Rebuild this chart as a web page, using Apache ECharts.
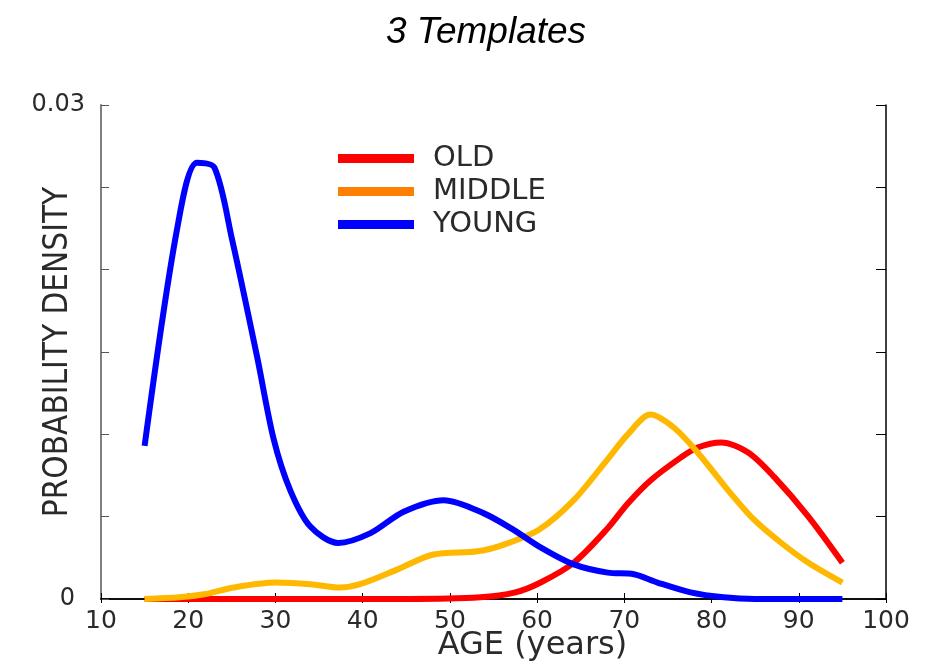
<!DOCTYPE html>
<html>
<head>
<meta charset="utf-8">
<script src="https://cdn.jsdelivr.net/npm/echarts@6/dist/echarts.min.js"></script>
<style>
  html, body { margin: 0; padding: 0; background: #fff; }
  #chart { width: 939px; height: 664px; }
</style>
</head>
<body>
<div id="chart"></div>
<script>
// ages (years) and probability densities
const oldAge = [15, 30, 45, 53.5, 57.5, 60.4, 64.2, 68.1, 70.4, 73, 76.5, 78.4, 81.1, 84.2, 87.2, 91.1, 95];
const oldDensity = [0, 0, 0, 0.0001, 0.0004, 0.001, 0.0022, 0.0043, 0.0058, 0.0072, 0.0086, 0.0092, 0.0095, 0.0089, 0.0074, 0.005, 0.0022];

const middleAge = [15, 19, 22, 25.2, 30, 34, 37.4, 39.7, 44, 48.1, 53.2, 56.2, 60.2, 64.2, 68.1, 70.4, 73, 75.7, 78.4, 81.9, 84.9, 88, 91.1, 95];
const middleDensity = [0, 0.0001, 0.0003, 0.0007, 0.001, 0.0009, 0.0007, 0.0009, 0.0018, 0.0027, 0.0029, 0.0033, 0.0042, 0.006, 0.0085, 0.01, 0.0112, 0.0104, 0.0089, 0.0066, 0.0048, 0.0034, 0.0022, 0.001];

const youngAge = [15, 18.7, 21, 23, 25, 27.9, 29.8, 31.7, 34, 37.2, 40.9, 44.7, 49.3, 53.9, 57.3, 60.2, 64.2, 68.1, 71.1, 73.8, 77.6, 81.4, 85, 90, 95];
const youngDensity = [0.0093, 0.0224, 0.0265, 0.0262, 0.0219, 0.0147, 0.0097, 0.0066, 0.0044, 0.0034, 0.004, 0.0053, 0.006, 0.0052, 0.0042, 0.0032, 0.0021, 0.0016, 0.0015, 0.001, 0.0004, 0.0001, 0, 0, 0];

const seriesNames = ["OLD", "MIDDLE", "YOUNG"];
const yTickLabels = { 0: "{zero|0}", 0.03: "0.03" };

const pairs = (xs, ys) => xs.map((x, i) => [x, ys[i]]);

const textColor = "#2a2a2a";
const font = "DejaVu Sans";

const chart = echarts.init(document.getElementById("chart"));

const option = {
  backgroundColor: "#fff",
  animation: false,
  title: {
    text: "3 Templates",
    left: 481,
    top: 9,
    textAlign: "center",
    textStyle: {
      fontFamily: "Liberation Sans",
      fontStyle: "italic",
      fontWeight: "normal",
      fontSize: 37,
      color: "#000",
    },
  },
  legend: {
    orient: "vertical",
    left: 333,
    top: 139,
    itemWidth: 76,
    itemHeight: 9,
    itemGap: 4,
    icon: "rect",
    textStyle: {
      fontFamily: font,
      fontSize: 29,
      color: textColor,
      padding: [0, 0, 0, 14],
    },
    data: [
      { name: seriesNames[0], itemStyle: { color: "#ff0000" } },
      { name: seriesNames[1], itemStyle: { color: "#ff7f00" } },
      { name: seriesNames[2], itemStyle: { color: "#0000ff" } },
    ],
  },
  grid: {
    left: 101,
    right: 53,
    top: 105,
    bottom: 65,
    outerBoundsMode: "none",
  },
  xAxis: [
    {
      type: "value",
      min: 10,
      max: 100,
      interval: 10,
      name: "AGE (years)",
      nameLocation: "middle",
      nameGap: 31,
      nameMoveOverlap: false,
      nameTextStyle: { fontFamily: font, fontSize: 32, color: textColor, padding: [0, 0, 0, 78] },
      axisLine: { lineStyle: { color: "#000", width: 1.5 } },
      axisTick: { inside: true, length: 6, lineStyle: { color: "#000" } },
      axisLabel: { fontFamily: font, fontSize: 25, color: textColor, margin: 10 },
      splitLine: { show: false },
    },
    {
      type: "value",
      position: "top",
      min: 10,
      max: 100,
      interval: 10,
      axisLine: { show: true, lineStyle: { color: "#000", width: 1.5 } },
      axisTick: { inside: true, length: 4, lineStyle: { color: "#000" } },
      axisLabel: { show: false },
      splitLine: { show: false },
    },
  ],
  yAxis: [
    {
      type: "value",
      min: 0,
      max: 0.03,
      interval: 0.005,
      name: "PROBABILITY DENSITY",
      nameLocation: "middle",
      nameGap: 26,
      nameMoveOverlap: false,
      nameTextStyle: { fontFamily: "DejaVu Sans Condensed", fontSize: 33, color: textColor },
      axisLine: { show: true, lineStyle: { color: "#808080", width: 2 } },
      axisTick: { inside: true, length: 8, lineStyle: { color: "#555" } },
      axisLabel: {
        fontFamily: font,
        fontSize: 24,
        color: textColor,
        margin: 16,
        formatter: (v) => yTickLabels[v] || "",
        rich: {
          zero: { fontFamily: font, fontSize: 24, color: textColor, padding: [0, 10, 0, 0] },
        },
      },
      splitLine: { show: false },
    },
    {
      type: "value",
      position: "right",
      min: 0,
      max: 0.03,
      interval: 0.005,
      axisLine: { show: true, lineStyle: { color: "#000", width: 1.5 } },
      axisTick: { inside: true, length: 10, lineStyle: { color: "#000" } },
      axisLabel: { show: false },
      splitLine: { show: false },
    },
  ],
  series: [
    {
      name: seriesNames[0],
      type: "line",
      smooth: 0.3,
      symbol: "none",
      lineStyle: { color: "#ff0000", width: 6 },
      itemStyle: { color: "#ff0000" },
      data: pairs(oldAge, oldDensity),
    },
    {
      name: seriesNames[1],
      type: "line",
      smooth: 0.3,
      symbol: "none",
      lineStyle: { color: "#ffb800", width: 6 },
      itemStyle: { color: "#ffb800" },
      data: pairs(middleAge, middleDensity),
    },
    {
      name: seriesNames[2],
      type: "line",
      smooth: 0.3,
      symbol: "none",
      lineStyle: { color: "#0000ff", width: 6 },
      itemStyle: { color: "#0000ff" },
      data: pairs(youngAge, youngDensity),
    },
  ],
};

chart.setOption(option);
</script>
</body>
</html>
